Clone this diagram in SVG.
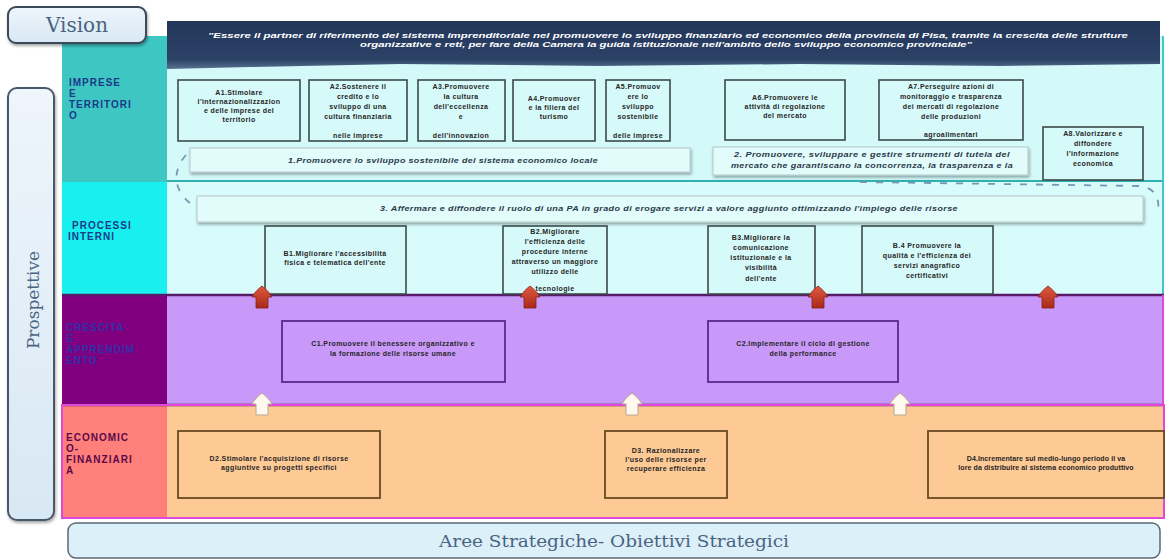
<svg xmlns="http://www.w3.org/2000/svg" width="1166" height="559" viewBox="0 0 1166 559">
<style>
.bx{font-family:"Liberation Sans",Arial,sans-serif;font-weight:bold;font-size:7px;fill:#262626;text-anchor:middle;letter-spacing:0.4px}
.lab{font-family:"Liberation Sans",Arial,sans-serif;font-weight:900;font-size:10px;letter-spacing:1px}
.bar{font-family:"Liberation Sans",Arial,sans-serif;font-weight:bold;font-style:italic;font-size:7px;fill:#2a3a4a;text-anchor:middle;letter-spacing:0.3px}
.b1{fill:#d6fafa;stroke:#3a4a4a;stroke-width:1.6}
.b3{fill:#c999fa;stroke:#5a2a8a;stroke-width:1.8}
.b4{fill:#fdca96;stroke:#6a4a20;stroke-width:1.8}
.sb{fill:#e2fbfb;stroke:#b8c8c8;stroke-width:1}
.ttl{font-family:"DejaVu Serif","Liberation Serif",serif;fill:#4a6480}
</style>
<defs>
<linearGradient id="gRed" x1="0" y1="0" x2="0" y2="1"><stop offset="0" stop-color="#e05a40"/><stop offset="1" stop-color="#a8281a"/></linearGradient>
<linearGradient id="gBan" x1="0" y1="0" x2="0" y2="1"><stop offset="0" stop-color="#22365a"/><stop offset="0.8" stop-color="#2c4266"/><stop offset="1" stop-color="#5a7090"/></linearGradient>
<linearGradient id="gBox" x1="0" y1="0" x2="0" y2="1"><stop offset="0" stop-color="#eef5fb"/><stop offset="1" stop-color="#d8e8f4"/></linearGradient>
<filter id="sh" x="-10%" y="-10%" width="130%" height="140%"><feDropShadow dx="1" dy="2" stdDeviation="1.5" flood-color="#000" flood-opacity="0.35"/></filter>
<path id="upR" d="M0 0 C4 3 8 7 10 11 L6 11 L6 22 L-6 22 L-6 11 L-10 11 C-8 7 -4 3 0 0 Z"/>
</defs>

<g id="prospettive">
<rect x="8" y="88" width="46" height="432" rx="9" fill="url(#gBox)" stroke="#4a5868" stroke-width="2" filter="url(#sh)"/>
<text class="ttl" x="0" y="0" font-size="17" transform="translate(39 300) rotate(-90)" text-anchor="middle" fill="#6a7e94">Prospettive</text>
</g>

<g id="rows">
<rect x="62" y="36" width="1102" height="146" fill="#d3f9f9"/>
<rect x="62" y="36" width="105" height="146" fill="#3ec6c2"/>
<rect x="62" y="182" width="1102" height="113" fill="#d8fbfb"/>
<rect x="62" y="182" width="105" height="113" fill="#18f0f0"/>
<rect x="62" y="295" width="1102" height="110" fill="#c999fa"/>
<rect x="62" y="295" width="105" height="110" fill="#800080"/>
<rect x="62" y="405" width="1102" height="113" fill="#fdca96"/>
<rect x="62" y="405" width="105" height="113" fill="#ff7f7a"/>
<line x1="167" y1="181" x2="1164" y2="181" stroke="#30b0b0" stroke-width="2"/>
<line x1="1163" y1="36" x2="1163" y2="295" stroke="#40c8c8" stroke-width="2"/>
<line x1="62" y1="295" x2="1164" y2="295" stroke="#5a1a6a" stroke-width="2.5"/>
<line x1="62" y1="405" x2="1164" y2="405" stroke="#5a1a5a" stroke-width="2.5"/>
<rect x="62" y="405" width="1102" height="113" fill="none" stroke="#e048d8" stroke-width="2"/>
<line x1="1163" y1="295" x2="1163" y2="405" stroke="#e048d8" stroke-width="2"/>
</g>

<g id="labels">
<text class="lab" fill="#1a3a88"><tspan x="69" y="86">IMPRESE</tspan><tspan x="69" y="97">E</tspan><tspan x="69" y="108">TERRITORI</tspan><tspan x="69" y="119">O</tspan></text>
<text class="lab" fill="#1a3a88"><tspan x="72" y="229">PROCESSI</tspan><tspan x="68" y="240">INTERNI</tspan></text>
<text class="lab" fill="#3030a8"><tspan x="66" y="331">CRESCITA</tspan><tspan x="66" y="342">E</tspan><tspan x="66" y="353">APPRENDIM</tspan><tspan x="66" y="364">ENTO</tspan></text>
<text class="lab" fill="#5a0a4a"><tspan x="66" y="441">ECONOMIC</tspan><tspan x="66" y="452">O-</tspan><tspan x="66" y="463">FINANZIARI</tspan><tspan x="66" y="474">A</tspan></text>
</g>

<g id="vision-banner">
<path d="M167 21 L1160 21 L1160 64 L1000 66 L800 64 L600 66 L400 64 L250 67 L167 69 Z" fill="url(#gBan)"/>
<text font-family="Liberation Sans,Arial,sans-serif" font-weight="bold" font-style="italic" font-size="7.5" fill="#ffffff" text-anchor="middle">
<tspan x="669" y="38" textLength="920" lengthAdjust="spacingAndGlyphs">"Essere il partner di riferimento del sistema imprenditoriale nel promuovere lo sviluppo finanziario ed economico della provincia di Pisa, tramite la crescita delle strutture</tspan>
<tspan x="666" y="47" textLength="612" lengthAdjust="spacingAndGlyphs">organizzative e reti, per fare della Camera la guida istituzionale nell'ambito dello sviluppo economico provinciale"</tspan>
</text>
</g>
<g id="vision">
<rect x="8" y="7" width="138" height="36" rx="8" fill="url(#gBox)" stroke="#3a4858" stroke-width="2" filter="url(#sh)"/>
<text class="ttl" x="77" y="32" font-size="20" text-anchor="middle" fill="#4a5868">Vision</text>
</g>

<g id="dash" fill="none" stroke="#7a96b0" stroke-width="1.8" stroke-dasharray="7 9">
<path d="M186 155 C174 168 170 190 194 206"/>
<path d="M860 182 L1140 186 C1154 188 1160 196 1158 212"/>
</g>

<g id="area1">
<rect class="sb" x="190" y="148" width="500" height="24" filter="url(#sh)"/>
<text class="bar" x="443" y="163" textLength="310" lengthAdjust="spacingAndGlyphs">1.Promuovere lo sviluppo sostenibile del sistema economico locale</text>
</g>
<g id="area2">
<rect class="sb" x="713" y="147" width="315" height="28" filter="url(#sh)"/>
<text class="bar"><tspan x="872" y="157" textLength="276" lengthAdjust="spacingAndGlyphs">2. Promuovere, sviluppare e gestire strumenti di tutela del</tspan><tspan x="872" y="168" textLength="282" lengthAdjust="spacingAndGlyphs">mercato che garantiscano la concorrenza, la trasparenza e la</tspan></text>
</g>
<g id="area3">
<rect class="sb" x="197" y="196" width="946" height="26" filter="url(#sh)"/>
<text class="bar" x="669" y="211" textLength="578" lengthAdjust="spacingAndGlyphs">3. Affermare e diffondere il ruolo di una PA in grado di erogare servizi a valore aggiunto ottimizzando l'impiego delle risorse</text>
</g>

<g id="A1"><rect class="b1" x="178" y="80" width="122" height="61"/>
<text class="bx"><tspan x="239" y="95">A1.Stimolare</tspan><tspan x="239" y="104">l'internazionalizzazion</tspan><tspan x="239" y="113">e delle imprese del</tspan><tspan x="239" y="122">territorio</tspan></text></g>
<g id="A2"><rect class="b1" x="309" y="80" width="98" height="61"/>
<text class="bx"><tspan x="358" y="89">A2.Sostenere il</tspan><tspan x="358" y="99">credito e lo</tspan><tspan x="358" y="109">sviluppo di una</tspan><tspan x="358" y="119">cultura finanziaria</tspan><tspan x="358" y="138">nelle imprese</tspan></text></g>
<g id="A3"><rect class="b1" x="418" y="80" width="87" height="61"/>
<text class="bx"><tspan x="461" y="89">A3.Promuovere</tspan><tspan x="461" y="99">la cultura</tspan><tspan x="461" y="109">dell'eccellenza</tspan><tspan x="461" y="119">e</tspan><tspan x="461" y="138">dell'innovazion</tspan></text></g>
<g id="A4"><rect class="b1" x="513" y="80" width="82" height="61"/>
<text class="bx"><tspan x="554" y="101">A4.Promuover</tspan><tspan x="554" y="110">e la filiera del</tspan><tspan x="554" y="119">turismo</tspan></text></g>
<g id="A5"><rect class="b1" x="606" y="80" width="64" height="61"/>
<text class="bx"><tspan x="638" y="89">A5.Promuov</tspan><tspan x="638" y="99">ere lo</tspan><tspan x="638" y="109">sviluppo</tspan><tspan x="638" y="119">sostenibile</tspan><tspan x="638" y="138">delle imprese</tspan></text></g>
<g id="A6"><rect class="b1" x="725" y="80" width="120" height="60"/>
<text class="bx"><tspan x="785" y="100">A6.Promuovere le</tspan><tspan x="785" y="109">attività di regolazione</tspan><tspan x="785" y="118">del mercato</tspan></text></g>
<g id="A7"><rect class="b1" x="879" y="80" width="144" height="60"/>
<text class="bx"><tspan x="951" y="89">A7.Perseguire azioni di</tspan><tspan x="951" y="99">monitoraggio e trasparenza</tspan><tspan x="951" y="109">dei mercati di regolazione</tspan><tspan x="951" y="119">delle produzioni</tspan><tspan x="951" y="137">agroalimentari</tspan></text></g>
<g id="A8"><rect class="b1" x="1043" y="127" width="100" height="53"/>
<text class="bx"><tspan x="1093" y="136">A8.Valorizzare e</tspan><tspan x="1093" y="146">diffondere</tspan><tspan x="1093" y="156">l'informazione</tspan><tspan x="1093" y="166">economica</tspan></text></g>

<g id="B1"><rect class="b1" x="265" y="226" width="141" height="68"/>
<text class="bx"><tspan x="335" y="256">B1.Migliorare l'accessibilità</tspan><tspan x="335" y="265">fisica e telematica dell'ente</tspan></text></g>
<g id="B2"><rect class="b1" x="503" y="226" width="104" height="68"/>
<text class="bx"><tspan x="555" y="234">B2.Migliorare</tspan><tspan x="555" y="244">l'efficienza delle</tspan><tspan x="555" y="254">procedure interne</tspan><tspan x="555" y="264">attraverso un maggiore</tspan><tspan x="555" y="274">utilizzo delle</tspan><tspan x="555" y="291">tecnologie</tspan></text></g>
<g id="B3"><rect class="b1" x="708" y="226" width="107" height="68"/>
<text class="bx"><tspan x="761" y="240">B3.Migliorare la</tspan><tspan x="761" y="250">comunicazione</tspan><tspan x="761" y="260">istituzionale e la</tspan><tspan x="761" y="270">visibilità</tspan><tspan x="761" y="281">dell'ente</tspan></text></g>
<g id="B4"><rect class="b1" x="862" y="226" width="131" height="68"/>
<text class="bx"><tspan x="927" y="248">B.4 Promuovere la</tspan><tspan x="927" y="258">qualità e l'efficienza dei</tspan><tspan x="927" y="268">servizi anagrafico</tspan><tspan x="927" y="278">certificativi</tspan></text></g>

<g id="C1"><rect class="b3" x="282" y="321" width="223" height="61"/>
<text class="bx"><tspan x="393" y="346">C1.Promuovere il benessere organizzativo e</tspan><tspan x="393" y="356">la formazione delle risorse umane</tspan></text></g>
<g id="C2"><rect class="b3" x="708" y="321" width="190" height="61"/>
<text class="bx"><tspan x="803" y="346">C2.Implementare il ciclo di gestione</tspan><tspan x="803" y="356">della performance</tspan></text></g>

<g id="D2"><rect class="b4" x="178" y="431" width="202" height="67"/>
<text class="bx"><tspan x="279" y="461">D2.Stimolare l'acquisizione di risorse</tspan><tspan x="279" y="470">aggiuntive su progetti specifici</tspan></text></g>
<g id="D3"><rect class="b4" x="605" y="431" width="122" height="67"/>
<text class="bx"><tspan x="666" y="453">D3. Razionalizzare</tspan><tspan x="666" y="462">l'uso delle risorse per</tspan><tspan x="666" y="471">recuperare efficienza</tspan></text></g>
<g id="D4"><rect class="b4" x="928" y="431" width="236" height="67"/>
<text class="bx" style="letter-spacing:0.1px"><tspan x="1046" y="461">D4.Incrementare sul medio-lungo periodo il va</tspan><tspan x="1046" y="470">lore da distribuire al sistema economico produttivo</tspan></text></g>

<g id="connectors">
<use href="#upR" x="262" y="286" fill="url(#gRed)" stroke="#8a2010" stroke-width="0.8"/>
<use href="#upR" x="530" y="286" fill="url(#gRed)" stroke="#8a2010" stroke-width="0.8"/>
<use href="#upR" x="818" y="286" fill="url(#gRed)" stroke="#8a2010" stroke-width="0.8"/>
<use href="#upR" x="1048" y="286" fill="url(#gRed)" stroke="#8a2010" stroke-width="0.8"/>
<use href="#upR" x="262" y="393" fill="#fff8ee" stroke="#b8a890" stroke-width="1"/>
<use href="#upR" x="632" y="393" fill="#fff8ee" stroke="#b8a890" stroke-width="1"/>
<use href="#upR" x="900" y="393" fill="#fff8ee" stroke="#b8a890" stroke-width="1"/>
</g>

<g id="aree">
<rect x="68" y="523" width="1092" height="35" rx="8" fill="#dcf0fa" stroke="#5a6878" stroke-width="1.5"/>
<text class="ttl" x="614" y="547" font-size="17" text-anchor="middle" textLength="350" lengthAdjust="spacingAndGlyphs">Aree Strategiche- Obiettivi Strategici</text>
</g>
</svg>
